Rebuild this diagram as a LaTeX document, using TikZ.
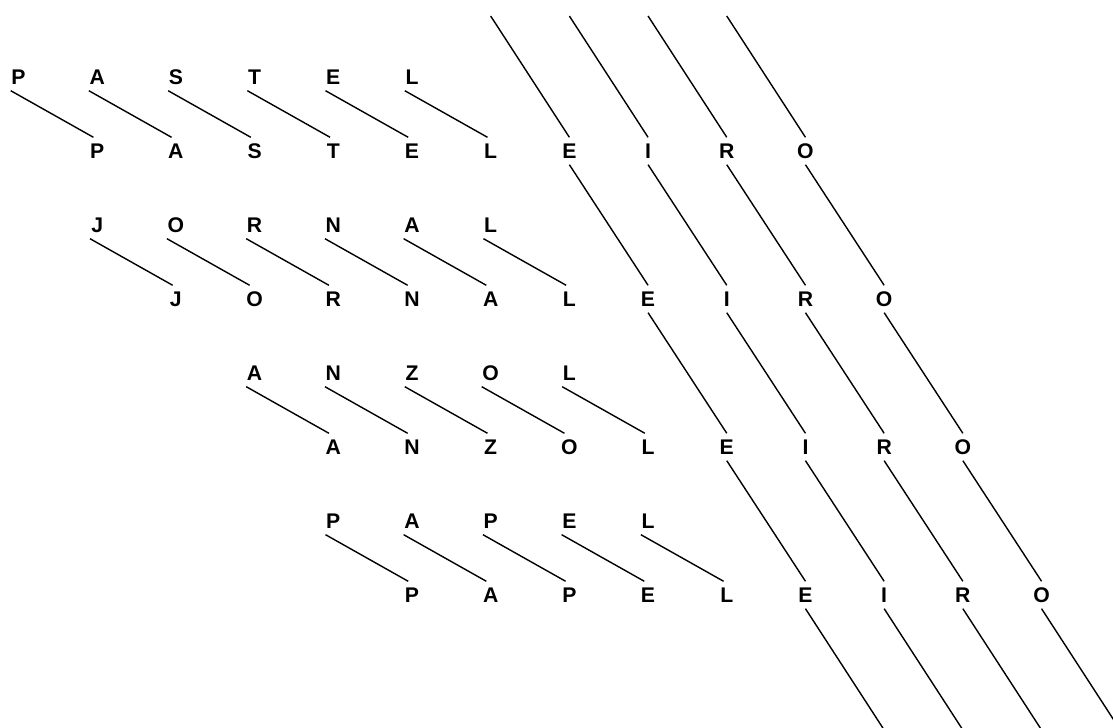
\documentclass[tikz,border=0pt]{standalone}
\usepackage{fontspec}
\setmainfont{Liberation Sans}
\begin{document}
\begin{tikzpicture}[x=39.35pt, y=37pt, line width=.7pt,
  letter/.style={font=\fontsize{10.6}{12}\selectfont\bfseries, inner xsep=0pt, inner ysep=2.8pt,
    minimum width=6.5pt, text height=7.4pt, text depth=0pt}]
\useasboundingbox (-0.235,-8.797) rectangle (13.908,1.0405);

\node[letter] (a0) at (0,0) {P};
\node[letter] (a1) at (1,0) {A};
\node[letter] (a2) at (2,0) {S};
\node[letter] (a3) at (3,0) {T};
\node[letter] (a4) at (4,0) {E};
\node[letter] (a5) at (5,0) {L};

\node[letter] (b1) at (1,-1) {P};
\node[letter] (b2) at (2,-1) {A};
\node[letter] (b3) at (3,-1) {S};
\node[letter] (b4) at (4,-1) {T};
\node[letter] (b5) at (5,-1) {E};
\node[letter] (b6) at (6,-1) {L};
\node[letter] (b7) at (7,-1) {E};
\node[letter] (b8) at (8,-1) {I};
\node[letter] (b9) at (9,-1) {R};
\node[letter] (b10) at (10,-1) {O};

\node[letter] (c1) at (1,-2) {J};
\node[letter] (c2) at (2,-2) {O};
\node[letter] (c3) at (3,-2) {R};
\node[letter] (c4) at (4,-2) {N};
\node[letter] (c5) at (5,-2) {A};
\node[letter] (c6) at (6,-2) {L};

\node[letter] (d2) at (2,-3) {J};
\node[letter] (d3) at (3,-3) {O};
\node[letter] (d4) at (4,-3) {R};
\node[letter] (d5) at (5,-3) {N};
\node[letter] (d6) at (6,-3) {A};
\node[letter] (d7) at (7,-3) {L};
\node[letter] (d8) at (8,-3) {E};
\node[letter] (d9) at (9,-3) {I};
\node[letter] (d10) at (10,-3) {R};
\node[letter] (d11) at (11,-3) {O};

\node[letter] (e3) at (3,-4) {A};
\node[letter] (e4) at (4,-4) {N};
\node[letter] (e5) at (5,-4) {Z};
\node[letter] (e6) at (6,-4) {O};
\node[letter] (e7) at (7,-4) {L};

\node[letter] (f4) at (4,-5) {A};
\node[letter] (f5) at (5,-5) {N};
\node[letter] (f6) at (6,-5) {Z};
\node[letter] (f7) at (7,-5) {O};
\node[letter] (f8) at (8,-5) {L};
\node[letter] (f9) at (9,-5) {E};
\node[letter] (f10) at (10,-5) {I};
\node[letter] (f11) at (11,-5) {R};
\node[letter] (f12) at (12,-5) {O};

\node[letter] (g4) at (4,-6) {P};
\node[letter] (g5) at (5,-6) {A};
\node[letter] (g6) at (6,-6) {P};
\node[letter] (g7) at (7,-6) {E};
\node[letter] (g8) at (8,-6) {L};

\node[letter] (h5) at (5,-7) {P};
\node[letter] (h6) at (6,-7) {A};
\node[letter] (h7) at (7,-7) {P};
\node[letter] (h8) at (8,-7) {E};
\node[letter] (h9) at (9,-7) {L};
\node[letter] (h10) at (10,-7) {E};
\node[letter] (h11) at (11,-7) {I};
\node[letter] (h12) at (12,-7) {R};
\node[letter] (h13) at (13,-7) {O};

\draw (a0.south west) -- ([xshift=2pt]b1.north west) (a1.south west) -- ([xshift=2pt]b2.north west)
  (a2.south west) -- ([xshift=2pt]b3.north west) (a3.south west) -- ([xshift=2pt]b4.north west)
  (a4.south west) -- ([xshift=2pt]b5.north west) (a5.south west) -- ([xshift=2pt]b6.north west);
\draw (c1.south west) -- ([xshift=2pt]d2.north west) (c2.south west) -- ([xshift=2pt]d3.north west)
  (c3.south west) -- ([xshift=2pt]d4.north west) (c4.south west) -- ([xshift=2pt]d5.north west)
  (c5.south west) -- ([xshift=2pt]d6.north west) (c6.south west) -- ([xshift=2pt]d7.north west);
\draw (e3.south west) -- ([xshift=2pt]f4.north west) (e4.south west) -- ([xshift=2pt]f5.north west)
  (e5.south west) -- ([xshift=2pt]f6.north west) (e6.south west) -- ([xshift=2pt]f7.north west)
  (e7.south west) -- ([xshift=2pt]f8.north west);
\draw (g4.south west) -- ([xshift=2pt]h5.north west) (g5.south west) -- ([xshift=2pt]h6.north west)
  (g6.south west) -- ([xshift=2pt]h7.north west) (g7.south west) -- ([xshift=2pt]h8.north west)
  (g8.south west) -- ([xshift=2pt]h9.north west);

% suffix
\coordinate (t6) at (6,0.824);
\coordinate (t7) at (7,0.824);
\coordinate (t8) at (8,0.824);
\coordinate (t9) at (9,0.824);
\coordinate (z11) at (11,-8.824);
\coordinate (z12) at (12,-8.824);
\coordinate (z13) at (13,-8.824);
\coordinate (z14) at (14,-8.824);

\draw (t6) -- (b7.north) (b7.south) -- (d8.north) (d8.south) -- (f9.north)
  (f9.south) -- (h10.north) (h10.south) -- (z11);
\draw (t7) -- (b8.north) (b8.south) -- (d9.north) (d9.south) -- (f10.north)
  (f10.south) -- (h11.north) (h11.south) -- (z12);
\draw (t8) -- (b9.north) (b9.south) -- (d10.north) (d10.south) -- (f11.north)
  (f11.south) -- (h12.north) (h12.south) -- (z13);
\draw (t9) -- (b10.north) (b10.south) -- (d11.north) (d11.south) -- (f12.north)
  (f12.south) -- (h13.north) (h13.south) -- (z14);
\end{tikzpicture}
\end{document}
